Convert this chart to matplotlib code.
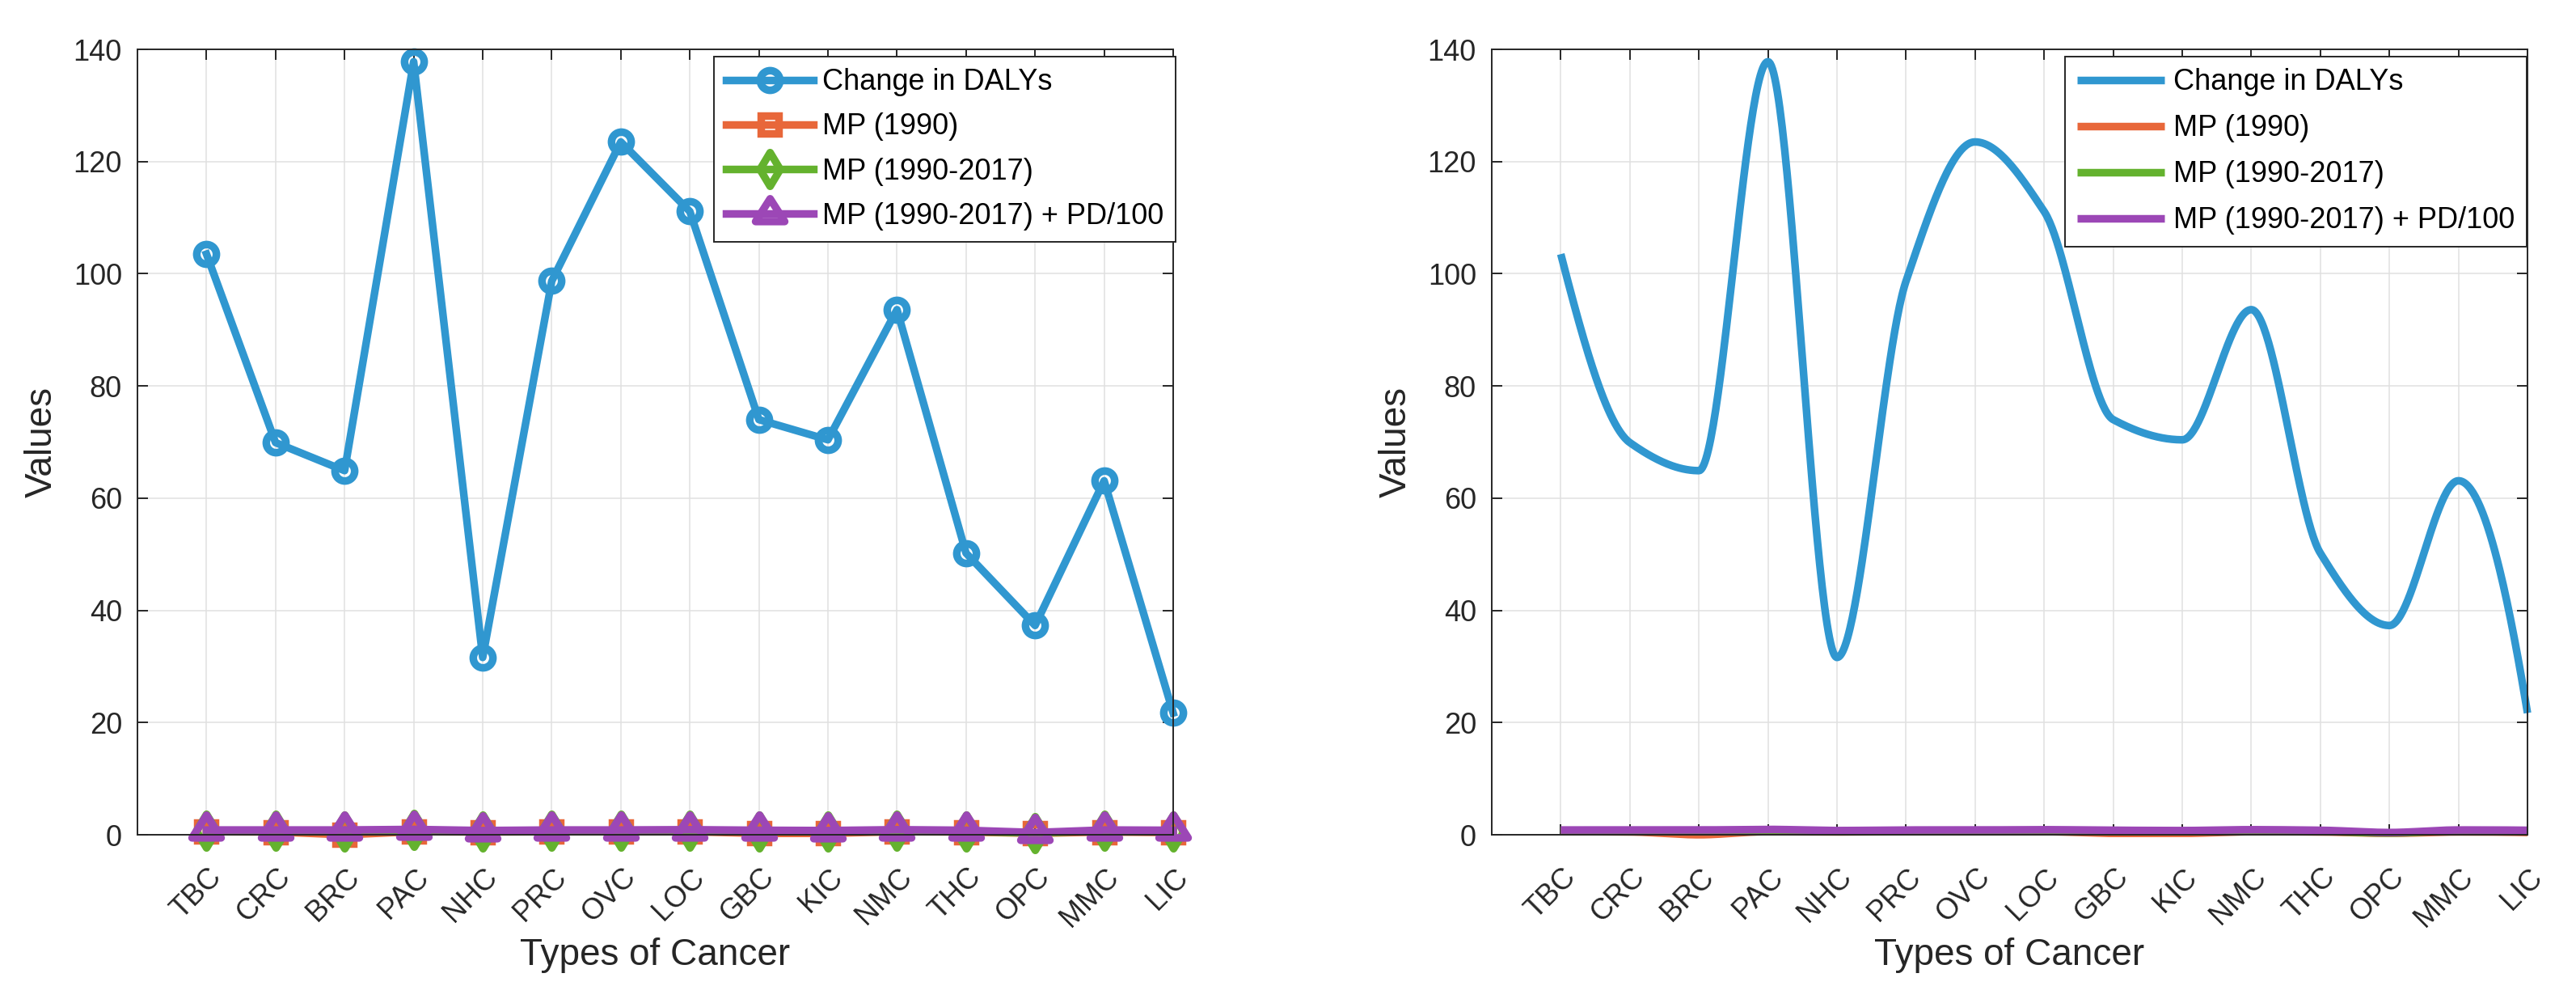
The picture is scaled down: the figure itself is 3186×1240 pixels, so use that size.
import numpy as np
import matplotlib
matplotlib.use("Agg")
import matplotlib.pyplot as plt
import matplotlib.transforms as mtrans
from matplotlib.path import Path

plt.rcParams['font.family'] = ['Liberation Sans', 'DejaVu Sans']

# ---------------- data ----------------
cancers = ['TBC', 'CRC', 'BRC', 'PAC', 'NHC', 'PRC', 'OVC', 'LOC',
           'GBC', 'KIC', 'NMC', 'THC', 'OPC', 'MMC', 'LIC']
change_dalys = [103.5, 69.9, 64.9, 137.8, 31.6, 98.7, 123.5, 111.1,
                74.0, 70.4, 93.6, 50.2, 37.3, 63.1, 21.7]
mp_1990 = [0.55, 0.5, 0.0, 0.55, 0.5, 0.55, 0.55, 0.55,
           0.25, 0.25, 0.55, 0.5, 0.25, 0.5, 0.4]
mp_1990_2017 = [0.7, 0.7, 0.6, 0.8, 0.6, 0.7, 0.7, 0.75,
                0.55, 0.55, 0.7, 0.6, 0.3, 0.7, 0.6]
mp_pd = [0.85, 0.85, 0.85, 0.95, 0.75, 0.85, 0.85, 0.9,
         0.8, 0.75, 0.9, 0.8, 0.4, 0.85, 0.8]
series_labels = ['Change in DALYs', 'MP (1990)', 'MP (1990-2017)',
                 'MP (1990-2017) + PD/100']
yticks = [0, 20, 40, 60, 80, 100, 120, 140]

# ---------------- styles ----------------
colors = ['#3097D0', '#E8673A', '#64B22E', '#9C47B6']
TXT = '#262626'
W, H = 3186, 1240
DPI = 100
LW = 6.8

tri = Path([(0, 1), (-0.96, -0.5), (0.96, -0.5), (0, 1)],
           [Path.MOVETO, Path.LINETO, Path.LINETO, Path.CLOSEPOLY])
dia = Path([(0, 1), (0.6, 0), (0, -1), (-0.6, 0), (0, 1)],
           [Path.MOVETO, Path.LINETO, Path.LINETO, Path.LINETO, Path.CLOSEPOLY])
markers = ['o', 's', dia, tri]
msizes = [17.5, 15.5, 30, 27]


def pchip(x, y, xs):
    x = np.asarray(x, float)
    y = np.asarray(y, float)
    n = len(x)
    h = np.diff(x)
    delta = np.diff(y) / h
    d = np.zeros(n)
    for k in range(1, n - 1):
        if delta[k - 1] * delta[k] > 0:
            w1 = 2 * h[k] + h[k - 1]
            w2 = h[k] + 2 * h[k - 1]
            d[k] = (w1 + w2) / (w1 / delta[k - 1] + w2 / delta[k])
        else:
            d[k] = 0.0

    def endslope(h0, h1, d0, d1):
        s = ((2 * h0 + h1) * d0 - h0 * d1) / (h0 + h1)
        if np.sign(s) != np.sign(d0):
            s = 0.0
        elif np.sign(d0) != np.sign(d1) and abs(s) > abs(3 * d0):
            s = 3 * d0
        return s

    d[0] = endslope(h[0], h[1], delta[0], delta[1])
    d[-1] = endslope(h[-1], h[-2], delta[-1], delta[-2])
    idx = np.clip(np.searchsorted(x, xs) - 1, 0, n - 2)
    t = (xs - x[idx]) / h[idx]
    h00 = 2 * t**3 - 3 * t**2 + 1
    h10 = t**3 - 2 * t**2 + t
    h01 = -2 * t**3 + 3 * t**2
    h11 = t**3 - t**2
    return (h00 * y[idx] + h10 * h[idx] * d[idx] +
            h01 * y[idx + 1] + h11 * h[idx] * d[idx + 1])


fig = plt.figure(figsize=(W / DPI, H / DPI), dpi=DPI)
ax_l = fig.add_axes([170 / W, 1 - 1032 / H, 1281 / W, 971 / H])
ax_r = fig.add_axes([1845 / W, 1 - 1032 / H, 1281 / W, 971 / H])

xpos = np.arange(1, len(cancers) + 1)
all_series = [change_dalys, mp_1990, mp_1990_2017, mp_pd]

# left: lines with markers
for vals, c, m, ms, lab in zip(all_series, colors, markers, msizes, series_labels):
    ax_l.plot(xpos, vals, color=c, lw=LW, marker=m, ms=ms,
              mfc='none', mec=c, mew=LW, label=lab, solid_joinstyle='round',
              clip_on=False)

# right: smooth (pchip) curves
xs = np.linspace(1, len(cancers), 800)
for vals, c, lab in zip(all_series, colors, series_labels):
    ax_r.plot(xs, pchip(xpos, vals, xs), color=c, lw=LW, label=lab,
              solid_capstyle='butt', clip_on=False)

offset = mtrans.ScaledTranslation(13 / DPI, 0, fig.dpi_scale_trans)
for ax, bx, ls in ((ax_l, 1.002, 0.56), (ax_r, 0.999, 0.61)):
    ax.set_xlim(0, len(cancers))
    ax.set_ylim(0, 140)
    ax.set_xticks(xpos)
    ax.set_xticklabels(cancers, rotation=45, ha='right', va='center',
                       rotation_mode='anchor')
    ax.set_yticks(yticks)
    ax.tick_params(axis='both', direction='in', length=9.4, width=1.4,
                   colors=TXT, labelsize=26, top=True, right=True)
    ax.tick_params(axis='x', pad=34)
    ax.tick_params(axis='y', pad=13.7)
    for lab in ax.get_xticklabels():
        lab.set_transform(lab.get_transform() + offset)
    for sp in ax.spines.values():
        sp.set_color(TXT)
        sp.set_linewidth(1.4)
    ax.grid(True, color='#e0e0e0', linewidth=1.1)
    ax.set_axisbelow(True)
    xl = ax.set_xlabel('Types of Cancer', fontsize=33, color=TXT)
    xl.set_va('center')
    ax.xaxis.set_label_coords(0.5, -(1181 - 1032) / 971)
    yl = ax.set_ylabel('Values', fontsize=33, color=TXT)
    yl.set_va('center')
    ax.yaxis.set_label_coords(-(170 - 52) / 1281, 0.5)
    leg = ax.legend(loc='upper right', bbox_to_anchor=(bx, 0.991),
                    borderaxespad=0, fontsize=26, frameon=True,
                    fancybox=False, framealpha=1, edgecolor=TXT,
                    handlelength=3.0, handletextpad=0.3, borderpad=0.4,
                    labelspacing=ls, numpoints=1)
    leg.get_frame().set_linewidth(1.4)
    for t in leg.get_texts():
        t.set_color('black')

fig.savefig('out.png', dpi=DPI, facecolor='white')
